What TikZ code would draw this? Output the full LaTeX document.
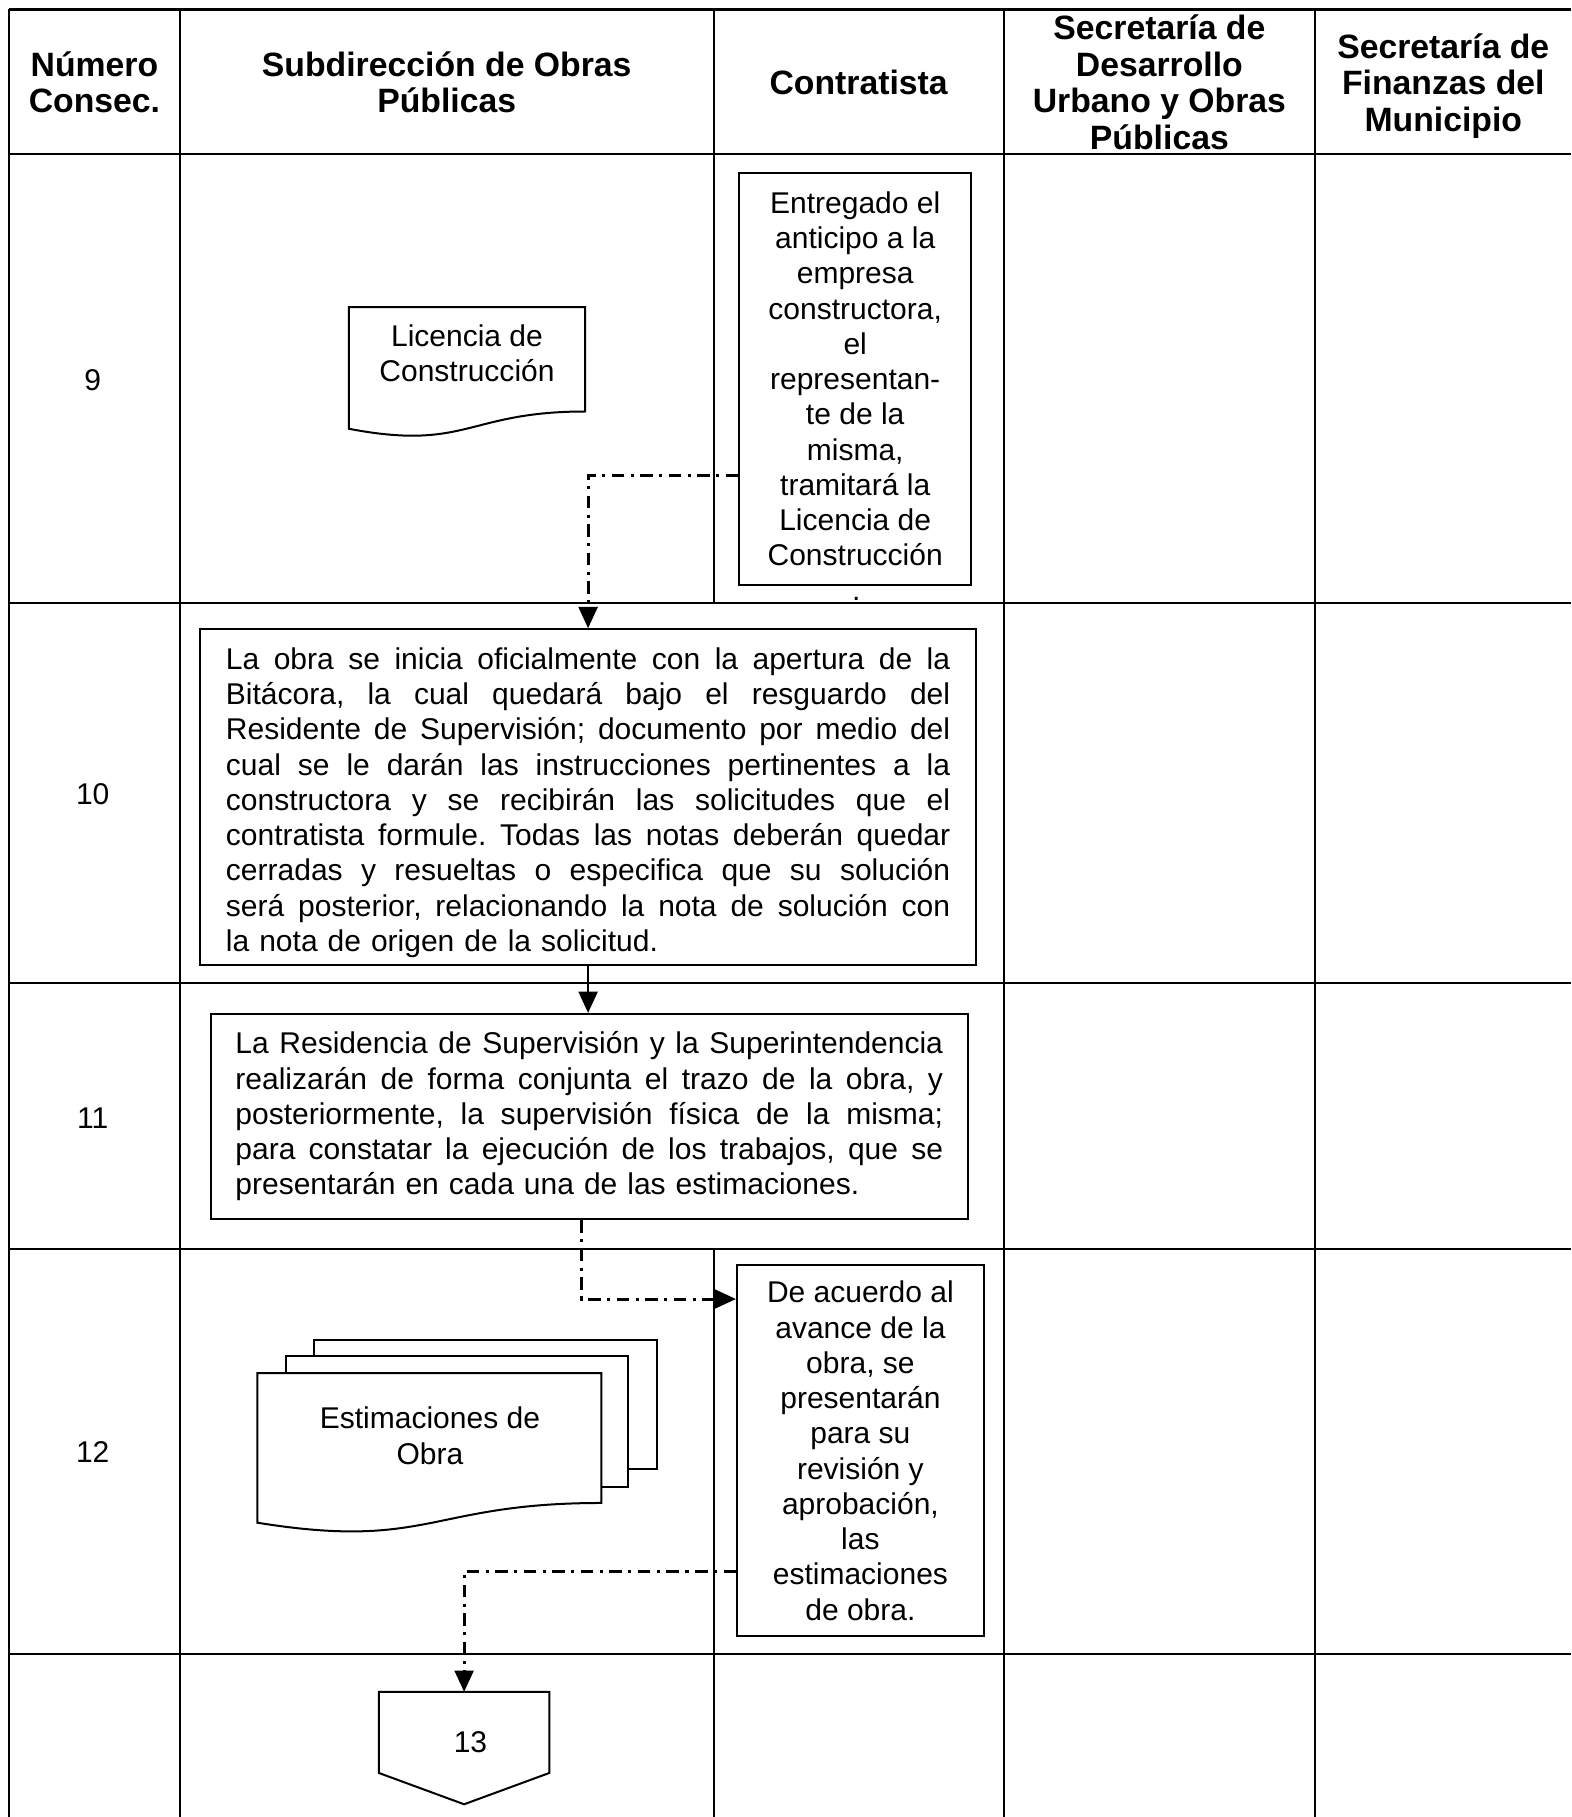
\documentclass[tikz,border=0pt]{standalone}
\usepackage{fontspec}
\setmainfont{Liberation Sans}
\usetikzlibrary{arrows.meta}
\newcommand\jlA[1]{\leavevmode\hbox to 289.65pt{\spaceskip=0.278em plus 1fil\relax #1}}
\newcommand\jlB[1]{\leavevmode\hbox to 283pt{\spaceskip=0.278em plus 1fil minus 0.09em\relax #1}}
\frenchspacing
\begin{document}
\frenchspacing
\begin{tikzpicture}[x=0.46344pt,y=-0.46344pt,
  gridline/.style={line width=0.8pt},
  procbox/.style={draw,line width=0.8pt,inner sep=0pt,fill=white},
  body/.style={font=\fontsize{12}{14.1}\selectfont},
  hdr/.style={font=\fontsize{13.5}{14.6}\selectfont\bfseries,align=center},
  dd/.style={line width=1.2pt,dash pattern=on 5pt off 2.6pt on 1.2pt off 2.6pt},
  arr/.style={-{Triangle[length=8.5pt,width=7.5pt]}},
  shapeline/.style={line width=0.8pt,fill=white}]
\useasboundingbox (0,0) rectangle (1356,1568);
% ---------- grid ----------
\draw[line width=1.4pt] (8,8) -- (1356,8);
\foreach \yy in {133,520,848,1078,1427} \draw[gridline] (8,\yy) -- (1356,\yy);
\draw[gridline] (8,8) -- (8,1568);
\draw[gridline] (155,8) -- (155,1568);
\draw[gridline] (616,8) -- (616,520);
\draw[gridline] (616,1078) -- (616,1568);
\draw[gridline] (866,8) -- (866,1568);
\draw[gridline] (1135,8) -- (1135,1568);
% ---------- header ----------
\node[hdr] (h0) at (81.5,71) {Número\\Consec.};
\node[hdr] (h1) at (385.5,71) {Subdirección de Obras\\Públicas};
\node[hdr] (h2) at (741,71) {Contratista};
\node[hdr] (h3) at (1000.5,71) {Secretaría de\\Desarrollo\\Urbano y Obras\\Públicas};
\node[hdr] (h4) at (1245.5,74) {Secretaría de\\Finanzas del\\Municipio};
% ---------- row numbers ----------
\node[body] (n9) at (80,328) {9};
\node[body] (n10) at (80,685) {10};
\node[body] (n11) at (80,965) {11};
\node[body] (n12) at (80,1253) {12};
% ---------- row 9 ----------
\draw[shapeline] (301,265) -- (505,265) -- (505,355.1)
  .. controls (403,355.1) and (403,389.5) .. (301,370) -- cycle;
\node[body,align=center] (lic) at (403,305) {Licencia de\\Construcción};
\node[procbox,body,align=center,minimum width=92.69pt,minimum height=164.52pt] (c9) at (738,327)
  {Entregado el\\anticipo a la\\empresa\\constructora,\\el\\representan-\\te de la\\misma,\\tramitará la\\Licencia de\\Construcción};
\node[body,anchor=base] (dot9) at (739,518) {.};
% ---------- row 10 ----------
\node[procbox,body,text width=289.65pt,align=left,minimum width=310.04pt,minimum height=134.4pt] (b10) at (507.5,688)
  {\jlA{\rule{0pt}{13pt}La obra se inicia oficialmente con la apertura de la}\\
   \jlA{Bitácora, la cual quedará bajo el resguardo del}\\
   \jlA{Residente de Supervisión; documento por medio del}\\
   \jlA{cual se le darán las instrucciones pertinentes a la}\\
   \jlA{constructora y se recibirán las solicitudes que el}\\
   \jlA{contratista formule. Todas las notas deberán quedar}\\
   \jlA{cerradas y resueltas o especifica que su solución}\\
   \jlA{será posterior, relacionando la nota de solución con}\\
   la nota de origen de la solicitud.};
% ---------- row 11 ----------
\node[procbox,body,text width=283pt,align=left,minimum width=302.63pt,minimum height=82.03pt] (b11) at (508.5,963.5)
  {\jlB{La Residencia de Supervisión y la Superintendencia}\\
   \jlB{realizarán de forma conjunta el trazo de la obra, y}\\
   \jlB{posteriormente, la supervisión física de la misma;}\\
   \jlB{para constatar la ejecución de los trabajos, que se}\\
   presentarán en cada una de las estimaciones.};
% ---------- row 12 ----------
\draw[shapeline] (271,1170) -- (271,1156) -- (567,1156) -- (567,1268) -- (542,1268);
\draw[shapeline] (247,1185) -- (247,1170) -- (542,1170) -- (542,1283) -- (519,1283);
\draw[shapeline] (222,1185) -- (519,1185) -- (519,1297)
  .. controls (370.5,1297) and (370.5,1338) .. (222,1314) -- cycle;
\node[body,align=center] (est) at (371,1239) {Estimaciones de\\Obra};
\node[procbox,body,align=center,minimum width=98.71pt,minimum height=148.3pt] (c12) at (742.5,1252)
  {De acuerdo al\\avance de la\\obra, se\\presentarán\\para su\\revisión y\\aprobación,\\las\\estimaciones\\de obra.};
% ---------- row 13 ----------
\coordinate (offtop) at (400.5,1460);
\draw[shapeline] (327,1460) -- (474,1460) -- (474,1530) -- (400.5,1557) -- (327,1530) -- cycle;
\node[body] (n13) at (406,1503) {13};
% ---------- connectors ----------
\coordinate (j1) at (507.5,410);
\coordinate (j2) at (502,1121);
\coordinate (j3) at (400.5,1356);
\draw[dd,arr] (c9.west |- j1) -- (j1) -- (b10.north);
\draw[line width=1.1pt,arr] (b10.south) -- (b10.south |- b11.north);
\draw[dd,arr] (b11.south -| j2) -- (j2) -- (c12.west |- j2);
\draw[dd,arr] (c12.west |- j3) -- (j3) -- (offtop);
\end{tikzpicture}
\end{document}
